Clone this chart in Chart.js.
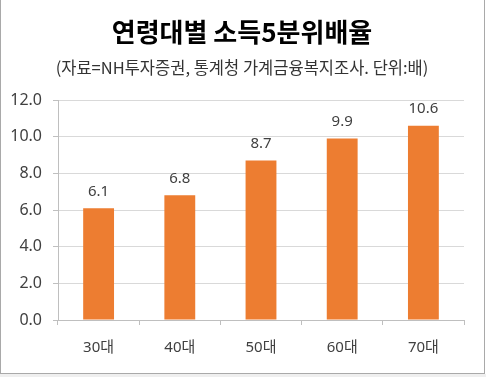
<!DOCTYPE html>
<html>
<head>
<meta charset="utf-8">
<script src="https://cdn.jsdelivr.net/npm/chart.js@4/dist/chart.umd.min.js"></script>
<style>
  html, body { margin: 0; padding: 0; background: #ffffff; }
  #wrap { position: absolute; left: 0; top: 0; width: 486px; height: 377px; overflow: hidden; }
  #frame { position: absolute; left: 0; top: 0; width: 483px; height: 373px; border-left: 1px solid #a9a9a9; border-right: 1px solid #a9a9a9; border-bottom: 1px solid #a9a9a9; box-sizing: content-box; }
  #strip { position: absolute; left: 0; top: 374px; width: 486px; height: 3px; background: #efefef; }
  canvas { position: absolute; left: 0; top: 0; }
</style>
</head>
<body>
<div id="wrap">
  <canvas id="c" width="486" height="377"></canvas>
  <div id="frame"></div>
  <div id="strip"></div>
</div>
<script>
const titleText = "연령대별 소득5분위배율";
const subtitleText = "(자료=NH투자증권, 통계청 가계금융복지조사. 단위:배)";
const categories = ["30대", "40대", "50대", "60대", "70대"];
const values = [6.1, 6.8, 8.7, 9.9, 10.6];
const yTicks = [0, 2, 4, 6, 8, 10, 12];

const FONT = "'Noto Sans', 'Noto Sans CJK KR', sans-serif";

const headerPlugin = {
  id: 'header',
  afterDraw(chart) {
    const ctx = chart.ctx;
    ctx.save();
    ctx.textAlign = 'center';
    ctx.textBaseline = 'middle';
    ctx.fillStyle = '#000000';
    ctx.font = "bold 26px 'Noto Sans CJK KR', sans-serif";
    ctx.fillText(titleText, 242, 32);
    ctx.fillStyle = '#333333';
    ctx.font = "16.5px 'Noto Sans CJK KR', sans-serif";
    ctx.fillText(subtitleText, 242, 68);
    ctx.restore();
  }
};

const valueLabelPlugin = {
  id: 'valueLabels',
  afterDatasetsDraw(chart) {
    const ctx = chart.ctx;
    const meta = chart.getDatasetMeta(0);
    ctx.save();
    ctx.textAlign = 'center';
    ctx.textBaseline = 'middle';
    ctx.fillStyle = '#404040';
    ctx.font = "15px " + FONT;
    meta.data.forEach((bar, i) => {
      ctx.fillText(values[i].toFixed(1), bar.x, bar.y - 16.5);
    });
    ctx.restore();
  }
};

new Chart(document.getElementById('c'), {
  type: 'bar',
  data: {
    labels: categories,
    datasets: [{
      data: values,
      backgroundColor: '#ED7D31',
      borderWidth: 0,
      categoryPercentage: 1.0,
      barPercentage: 0.38
    }]
  },
  options: {
    responsive: false,
    animation: false,
    devicePixelRatio: 1,
    layout: { padding: { top: 100, right: 22, bottom: 0, left: 0 } },
    plugins: { legend: { display: false }, tooltip: { enabled: false }, title: { display: false } },
    scales: {
      x: {
        offset: true,
        grid: { offset: true, drawOnChartArea: false, drawTicks: true, tickLength: 5, color: '#bfbfbf' },
        border: { display: true, color: '#bfbfbf', width: 1 },
        ticks: { color: '#404040', font: { size: 15, family: FONT }, padding: 14 },
        afterFit(scale) { scale.height = 57; }
      },
      y: {
        min: 0,
        max: 12,
        afterBuildTicks(scale) { scale.ticks = yTicks.map(v => ({ value: v })); },
        grid: { color: '#d9d9d9', drawTicks: true, tickLength: 5, tickColor: '#bfbfbf' },
        border: { display: true, color: '#bfbfbf', width: 1 },
        ticks: { color: '#404040', font: { size: 16, family: FONT }, padding: 11, callback: v => Number(v).toFixed(1) },
        afterFit(scale) { scale.width = 58; }
      }
    }
  },
  plugins: [headerPlugin, valueLabelPlugin]
});
</script>
</body>
</html>
